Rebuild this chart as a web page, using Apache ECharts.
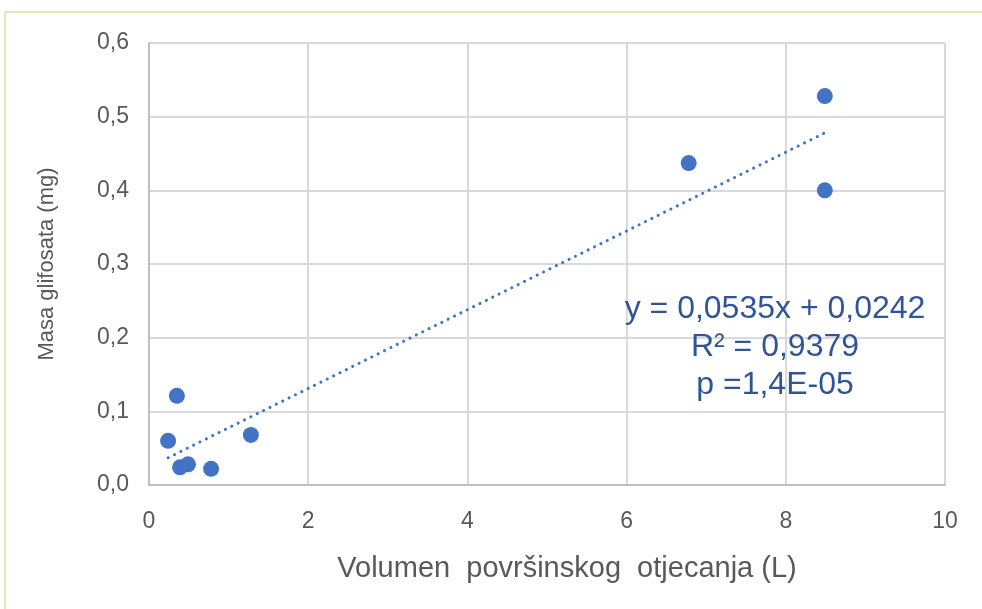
<!DOCTYPE html>
<html>
<head>
<meta charset="utf-8">
<script src="https://cdn.jsdelivr.net/npm/echarts@6/dist/echarts.min.js"></script>
<style>html,body{margin:0;padding:0;background:#fff}#c{width:982px;height:609px}</style>
</head>
<body>
<div id="c"></div>
<script>
// Data
const volumeL = [0.24, 0.35, 0.39, 0.49, 0.78, 1.28, 6.78, 8.49, 8.49];
const massMg  = [0.060, 0.121, 0.024, 0.028, 0.022, 0.068, 0.437, 0.528, 0.400];
const trendX  = [0.24, 8.49];
const trendY  = [0.037, 0.478];
const xTicks  = [0, 2, 4, 6, 8, 10];
const yTicks  = [0, 0.1, 0.2, 0.3, 0.4, 0.5, 0.6];
const annotation = ['y = 0,0535x + 0,0242', 'R² = 0,9379', 'p =1,4E-05'];

const chart = echarts.init(document.getElementById('c'), null, {renderer: 'canvas'});
const font = 'Liberation Sans, Arial, sans-serif';
chart.setOption({
  animation: false,
  backgroundColor: '#fff',
  grid: {left: 149, right: 37, top: 43, bottom: 124},
  xAxis: {
    type: 'value', min: xTicks[0], max: xTicks[xTicks.length-1], interval: 2,
    name: 'Volumen  površinskog  otjecanja (L)', nameLocation: 'middle', nameGap: 69,
    nameTextStyle: {fontFamily: font, fontSize: 29, color: '#595959', padding: [0, 0, 0, 40]},
    axisLine: {show: true, lineStyle: {color: '#bfbfbf', width: 2}},
    axisTick: {show: false},
    axisLabel: {fontFamily: font, fontSize: 23, color: '#595959', margin: 25},
    splitLine: {show: true, lineStyle: {color: '#d9d9d9', width: 2}}
  },
  yAxis: {
    type: 'value', min: yTicks[0], max: yTicks[yTicks.length-1], interval: 0.1,
    name: 'Masa glifosata (mg)', nameLocation: 'middle', nameGap: 91, nameRotate: 90,
    nameTextStyle: {fontFamily: font, fontSize: 22, color: '#595959'},
    axisLine: {show: true, lineStyle: {color: '#bfbfbf', width: 2}},
    axisTick: {show: false},
    axisLabel: {fontFamily: font, fontSize: 23, color: '#595959', margin: 20,
      formatter: v => v.toFixed(1).replace('.', ',')},
    splitLine: {show: true, lineStyle: {color: '#d9d9d9', width: 2}}
  },
  series: [
    {
      type: 'line', data: trendX.map((x, i) => [x, trendY[i]]),
      showSymbol: false, symbol: 'none', z: 2,
      lineStyle: {color: '#4472C4', width: 3, type: [0.1, 7], cap: 'round'}
    },
    {
      type: 'scatter', data: volumeL.map((x, i) => [x, massMg[i]]),
      symbolSize: 16, z: 3,
      itemStyle: {color: '#4472C4', opacity: 1}
    }
  ],
  graphic: [
    {type: 'line', shape: {x1: 5, y1: 12, x2: 982, y2: 12}, style: {stroke: '#e4e6b4', lineWidth: 2}},
    {type: 'line', shape: {x1: 5, y1: 12, x2: 5, y2: 609}, style: {stroke: '#e4e6b4', lineWidth: 2}},
    {type: 'text', x: 775, y: 290, z: 10,
     style: {text: annotation.join('\n'), font: '32px Liberation Sans, Arial, sans-serif', lineHeight: 38, fill: '#2F5597', align: 'center', verticalAlign: 'top'}}
  ]
});
</script>
</body>
</html>
